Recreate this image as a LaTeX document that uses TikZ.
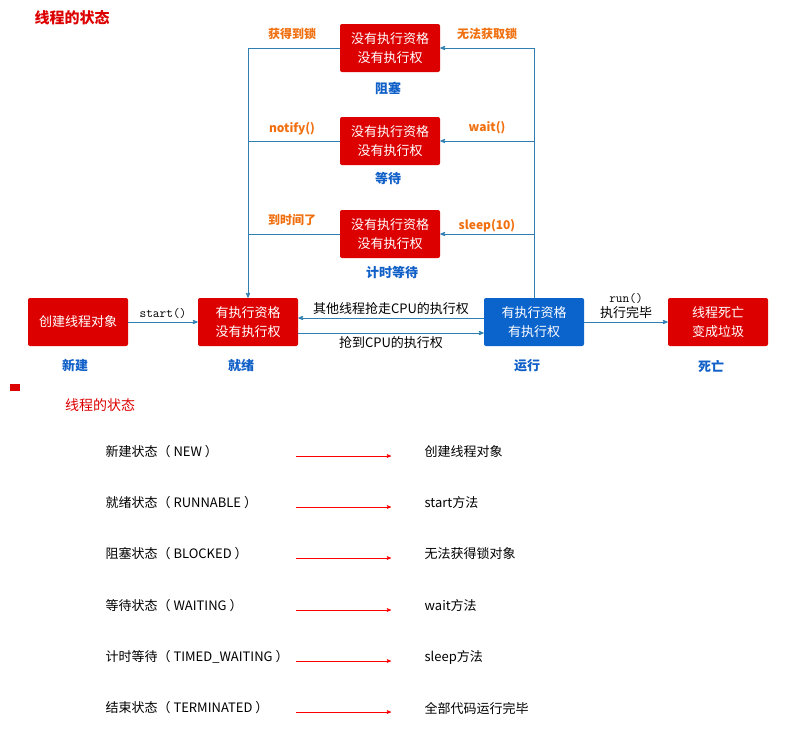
\documentclass[tikz,border=0pt]{standalone}
\usepackage{fontspec}
\setmainfont{Noto Sans CJK SC}
\usetikzlibrary{arrows}
\definecolor{boxred}{HTML}{DD0000}
\definecolor{boxblue}{HTML}{0B63CC}
\definecolor{linkblue}{HTML}{2F7FB3}
\definecolor{lblorange}{HTML}{F07010}
\definecolor{lblblue}{HTML}{1060C8}

\begin{document}
\begin{tikzpicture}[x=1pt,y=-1pt,>=stealth',semithick,
                    every node/.style={font=\fontsize{13}{15}\selectfont}]
  \tikzstyle{state}=[fill=boxred,text=white,rounded corners=2pt,
                     minimum width=100pt,minimum height=48pt,align=center,
                     font=\fontsize{13}{19}\selectfont]
  \tikzstyle{link}=[->,draw=linkblue,thick]
  \tikzstyle{tag}=[text=lblblue,font=\bfseries\fontsize{13}{15}\selectfont]
  \tikzstyle{why}=[text=lblorange,font=\bfseries\fontsize{12}{14}\selectfont]
  \useasboundingbox (0,0) rectangle (789,748);

  \node[text=boxred,font=\bfseries\fontsize{15}{18}\selectfont] (T) at (72,18) {线程的状态};

  \node[state]  (N)  at (78,322)   {创建线程对象};
  \node[state]  (R)  at (248,322)  {有执行资格\\没有执行权};
  \node[state,fill=boxblue] (U) at (534,322) {有执行资格\\有执行权};
  \node[state]  (D)  at (718,322)  {线程死亡\\变成垃圾};
  \node[state]  (B)  at (390,48)   {没有执行资格\\没有执行权};
  \node[state]  (W)  at (390,141)  {没有执行资格\\没有执行权};
  \node[state]  (S)  at (390,234)  {没有执行资格\\没有执行权};

  \node[tag] at (75,366)  {新建};
  \node[tag] at (241,366) {就绪};
  \node[tag] at (527,366) {运行};
  \node[tag] at (711,366) {死亡};
  \node[tag] at (388,88)  {阻塞};
  \node[tag] at (388,178) {等待};
  \node[tag] at (392,273) {计时等待};

  \draw[link] (N.east) -- node[above,text=black,font=\ttfamily\fontsize{13}{15}\selectfont] {start()} (R.west);
  \draw[link] (U.east) -- node[above,text=black,align=center] {{\ttfamily run()}\\执行完毕} (D.west);
  \draw[link] ([yshift=4pt]U.west) -- node[above,text=black] {其他线程抢走CPU的执行权} ([yshift=4pt]R.east);
  \draw[link] ([yshift=-11pt]R.east) -- node[below,text=black] {抢到CPU的执行权} ([yshift=-11pt]U.west);

  % right side: running -> blocked states
  \draw[link] (U.north) |- (B.east);
  \draw[link] (U.north) |- (W.east);
  \draw[link] (U.north) |- (S.east);
  % left side: back to runnable
  \draw[link] (B.west) -| (R.north);
  \draw[draw=linkblue,thick] (W.west) -- (W.west -| R.north);
  \draw[draw=linkblue,thick] (S.west) -- (S.west -| R.north);

  \node[why] at (292,34)  {获得到锁};
  \node[why] at (487,34)  {无法获取锁};
  \node[why] at (292,129) {notify()};
  \node[why] at (487,128) {wait()};
  \node[why] at (292,220) {到时间了};
  \node[why] at (487,226) {sleep(10)};

  % lower table
  \fill[boxred] (10,384) rectangle (20,391);
  \node[text=boxred,font=\fontsize{14}{16}\selectfont] (T2) at (100,405) {线程的状态};
  \foreach \y/\l/\r [count=\i] in {452/新建状态（ NEW ）/创建线程对象,
      503/就绪状态（ RUNNABLE ）/start方法,
      554/阻塞状态（ BLOCKED ）/无法获得锁对象,
      606/等待状态（ WAITING ）/wait方法,
      657/计时等待（ TIMED\_WAITING ）/sleep方法,
      708/结束状态（ TERMINATED ）/全部代码运行完毕} {
    \node[anchor=west] (L\i) at (102,\y) {\l};
    \node[anchor=west] (M\i) at (421,\y) {\r};
    \coordinate (a\i) at (296,\y+4);
    \coordinate (b\i) at (391,\y+4);
    \draw[->,red] (a\i) -- (b\i);
  }
\end{tikzpicture}
\end{document}
